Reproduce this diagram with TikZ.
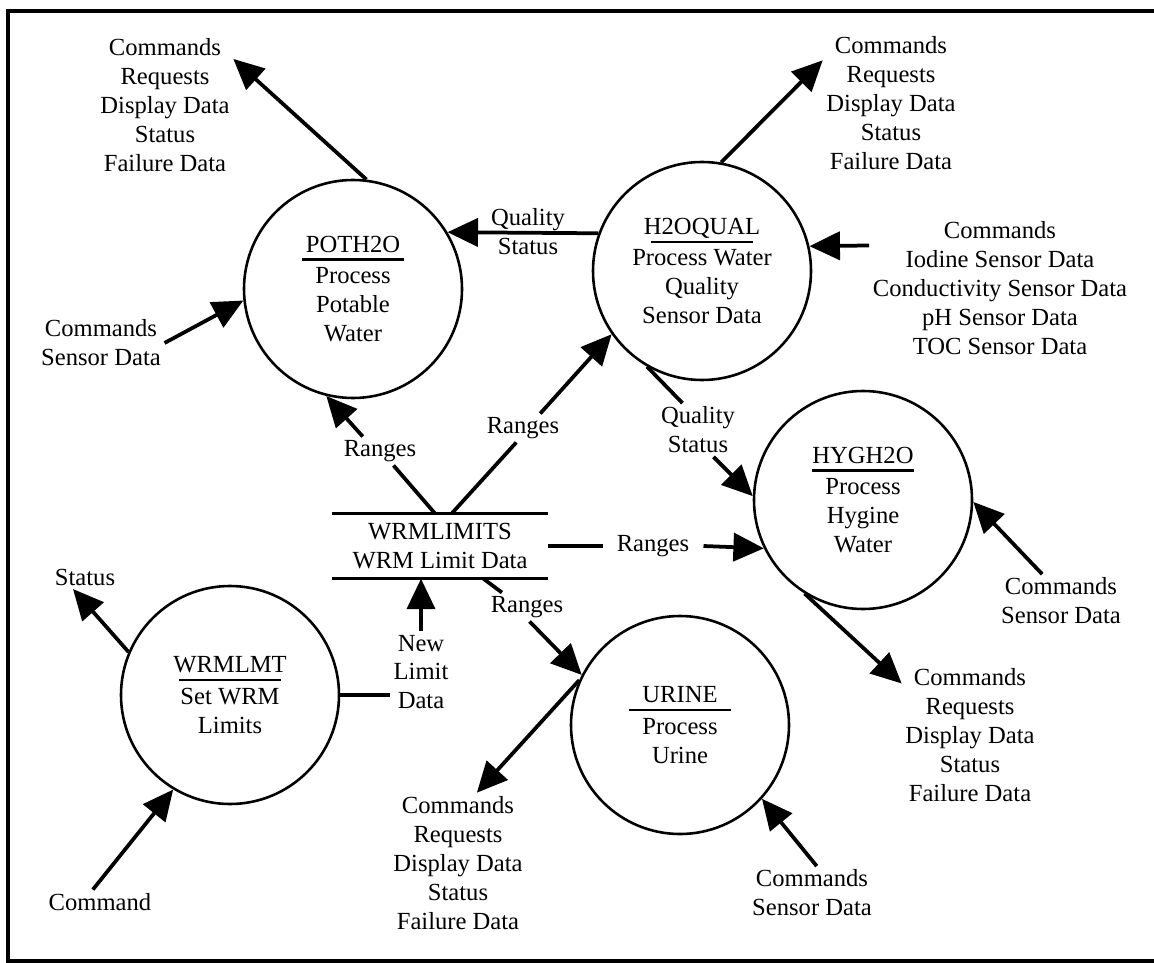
\documentclass[tikz,border=0pt]{standalone}
\usepackage{fontspec}
\setmainfont{Liberation Serif}
\usepackage{tikz}
\usetikzlibrary{calc, arrows.meta, positioning}
\newcommand{\pname}[1]{\makebox[3.05cm]{#1}\llap{\rule[-7pt]{3.05cm}{1.8pt}}}

\begin{document}
\begin{tikzpicture}[>={Triangle[length=26pt, width=24pt]}, x=0.03cm, y=-0.03cm,
    font=\fontsize{21}{24.7}\selectfont,
    proc/.style={circle, draw, line width=2.2pt, minimum size=6.54cm, inner sep=0pt, align=center},
    store/.style={minimum width=6.45cm, minimum height=1.95cm, inner sep=0pt, align=center},
    lbl/.style={align=center, inner sep=3pt},
    flow/.style={line width=3.2pt}]
    \useasboundingbox (0,0) rectangle (1154,963);
    % Khung
    \draw[line width=2.8pt] (1154,11) -- (8,11) -- (8,961) -- (1154,961);

    % Các tiến trình
    \node[proc] (poth) at (353,289) {\pname{POTH2O}\\[2pt]Process\\Potable\\Water};
    \node[proc] (h2oq) at (702,271) {\pname{H2OQUAL}\\[2pt]Process Water\\Quality\\Sensor Data};
    \node[proc] (hyg) at (863,500) {\pname{HYGH2O}\\[2pt]Process\\Hygine\\Water};
    \node[proc] (wrmlmt) at (230,695) {\pname{WRMLMT}\\[2pt]Set WRM\\Limits};
    \node[proc] (urine) at (680,725) {\pname{URINE}\\[2pt]Process\\Urine};

    % Kho dữ liệu
    \node[store] (store) at (440,546) {WRMLIMITS\\WRM Limit Data};
    \draw[line width=2.6pt] (store.north west) -- (store.north east)
        (store.south west) -- (store.south east);

    % Nhãn
    \node[lbl] (pothout) at (165,105) {Commands\\Requests\\Display Data\\Status\\Failure Data};
    \node[lbl] (psens) at (101,343) {Commands\\Sensor Data};
    \node[lbl] (h2oqout) at (891,103) {Commands\\Requests\\Display Data\\Status\\Failure Data};
    \node[lbl] (h2oqin) at (1000,288) {Commands\\Iodine Sensor Data\\Conductivity Sensor Data\\pH Sensor Data\\TOC Sensor Data};
    \node[lbl] (qs1) at (528,232) {Quality\\Status};
    \node[lbl] (qs2) at (698,430) {Quality\\Status};
    \node[lbl] (r1) at (380,451) {Ranges};
    \node[lbl] (r2) at (523,428) {Ranges};
    \node[lbl, inner xsep=12pt] (r3) at (653,546) {Ranges};
    \node[lbl] (r4) at (527,607) {Ranges};
    \node[lbl] (hsens) at (1061,601) {Commands\\Sensor Data};
    \node[lbl] (hout) at (970,735) {Commands\\Requests\\Display Data\\Status\\Failure Data};
    \node[lbl] (status) at (85,577) {Status};
    \node[lbl] (nl) at (421,672) {New\\Limit\\Data};
    \node[lbl] (cmd) at (100,902) {Command};
    \node[lbl] (uout) at (458,863) {Commands\\Requests\\Display Data\\Status\\Failure Data};
    \node[lbl] (usens) at (812,893) {Commands\\Sensor Data};

    % Luồng dữ liệu
    \draw[flow, ->] (poth.83) -- (pothout.34);
    \draw[flow, ->] (psens.east) -- (poth.186);
    \draw[flow, ->] (h2oq.160) -- (poth.31);
    \draw[flow, ->] (h2oq.80) -- (h2oqout.148);
    \draw[flow, ->] (h2oqin.162) -- (h2oq.13);
    \draw[flow] (h2oq.240) -- (qs2.120);
    \draw[flow, ->] (qs2.-60) -- (hyg.178);
    \draw[flow] (store.99) -- (r1.-47);
    \draw[flow, ->] (r1.140) -- (poth.256);
    \draw[flow] (store.70) -- (r2.245);
    \draw[flow, ->] (r2.40) -- (h2oq.215);
    \draw[flow] (store.east) -- (r3.west);
    \draw[flow, ->] (r3.east) -- (hyg.206);
    \draw[flow] (store.-37) -- (r4.150);
    \draw[flow, ->] (r4.-80) -- (urine.153);
    \draw[flow] (wrmlmt.east) -- (wrmlmt.east -| nl.west);
    \draw[flow, ->] (nl.north) -- (nl.north |- store.south);
    \draw[flow, ->] (wrmlmt.157) -- (status.-135);
    \draw[flow, ->] (cmd.120) -- (wrmlmt.239);
    \draw[flow, ->] (urine.156) -- (uout.75);
    \draw[flow, ->] (usens.80) -- (urine.-42);
    \draw[flow, ->] (hyg.238) -- (hout.143);
    \draw[flow, ->] (hsens.125) -- (hyg.-1);
\end{tikzpicture}
\end{document}
